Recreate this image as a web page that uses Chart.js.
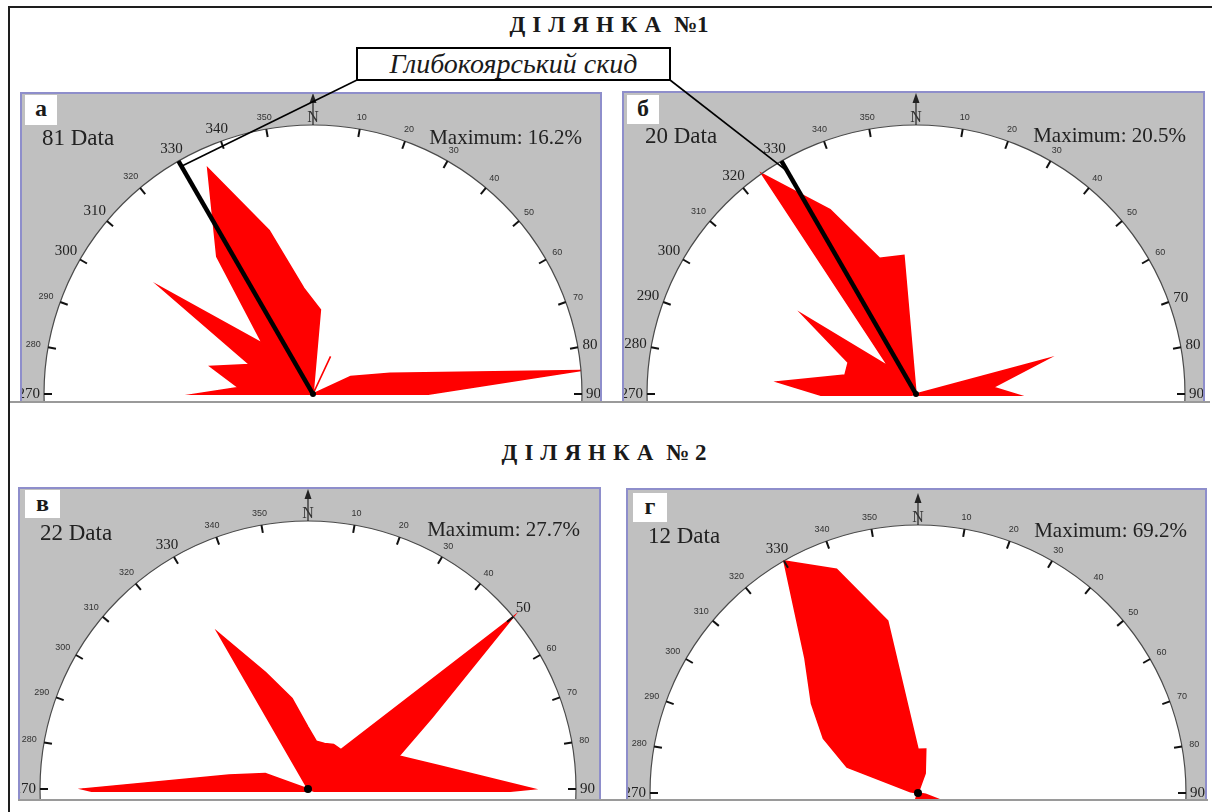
<!DOCTYPE html>
<html lang="uk"><head><meta charset="utf-8">
<title>Rose diagrams</title>
<script src="https://cdn.jsdelivr.net/npm/chart.js@4.4.1/dist/chart.umd.min.js"></script>
<style>
html,body{margin:0;padding:0;background:#fff;}
body{position:relative;width:1212px;height:812px;overflow:hidden;font-family:"Liberation Serif","Times New Roman",serif;color:#1a1a1a;}
.abs{position:absolute;}
.frameT{left:8px;top:6px;width:1204px;height:2px;background:#1e1e1e;}
.frameL{left:8px;top:6px;width:2px;height:806px;background:#1e1e1e;}
.title{font-weight:bold;font-size:23px;line-height:23px;white-space:nowrap;transform:translateX(-50%);}
.title .sp{letter-spacing:7px;}
.panel{background:#c0c0c0;overflow:hidden;box-sizing:border-box;border:2px solid #8e8ecb;border-bottom:0;z-index:1;}
.panel canvas{position:absolute;}
.hline{height:2px;background:#9a9a9a;z-index:2;}
.tag{background:#fff;font-weight:bold;font-size:24px;line-height:26px;text-align:center;z-index:3;}
.data{font-size:23px;line-height:23px;white-space:nowrap;z-index:3;color:#222;}
.maxi{font-size:21px;line-height:21px;white-space:nowrap;z-index:3;color:#222;}
#overlay{left:0;top:0;z-index:4;pointer-events:none;}
.callout{left:356px;top:47px;width:315px;height:34px;box-sizing:border-box;border:2px solid #000;background:#fff;font-style:italic;font-size:28px;display:flex;align-items:center;justify-content:center;z-index:5;white-space:nowrap;}
</style></head><body>
<div class="abs frameT"></div>
<div class="abs frameL"></div>
<div class="abs title" style="left:609px;top:13px;"><span class="sp">ДІЛЯНКА</span> №1</div>
<div class="abs title" style="left:604px;top:441px;"><span class="sp">ДІЛЯНКА</span> № 2</div>
<div id="root"></div>
<canvas id="overlay" class="abs" width="1212" height="812"></canvas>
<div class="abs callout" id="callout">Глибокоярський скид</div>
<script>
// ---------------- data ----------------
const panelTags = ['а', 'б', 'в', 'г'];
const dataCounts = [81, 20, 22, 12];
const maxima = [16.2, 20.5, 27.7, 69.2];          // Maximum, % (outer circle)

// bin-centre azimuths of the visible half-rose (axial data, 10° bins)
const binsA = [275, 285, 295, 305, 315, 325, 335, 345, 355, 5, 15, 25, 35, 45, 55, 65, 75, 85];
const binsB = [275, 285, 295, 305, 315, 325, 335, 345, 355, 5, 15, 25, 35, 45, 55, 65, 75, 85];
const binsV = [270, 280, 290, 300, 310, 320, 330, 340, 350, 0, 10, 20, 30, 40, 50, 60, 70, 80, 90];
const binsG = [270, 280, 290, 300, 310, 320, 330, 340, 350, 0, 10, 20, 30, 40, 50, 60, 70, 80, 90];

// percentages per bin
const pctA = [4.5, 6.4, 4.2, 11.3, 4.3, 10.1, 15.0, 10.2, 6.4, 5.1, 0, 2.5, 0, 0, 0, 2.5, 4.8, 16.2];
const pctB = [10.6, 5.6, 5.7, 10.6, 3.0, 20.5, 15.5, 10.7, 10.6, 0, 0, 0, 0, 0, 0, 0, 10.4, 5.9];
const pctV = [23.3, 8.3, 4.7, 0, 0, 0, 18.7, 12.8, 9.5, 6.4, 5.0, 5.0, 5.3, 5.3, 27.7, 14.8, 10.0, 13.8, 23.3];
const pctG = [0, 2.0, 19.5, 28.2, 35.9, 45.4, 69.2, 61.5, 45.1, 11.3, 11.5, 5.4, 0, 0, 0, 0, 0, 0, 0];

// tick marks / labels on the arc
const tickAngles = [270, 280, 290, 300, 310, 320, 330, 340, 350, 10, 20, 30, 40, 50, 60, 70, 80, 90];
const tickLabels = ['270', '280', '290', '300', '310', '320', '330', '340', '350', '10', '20', '30', '40', '50', '60', '70', '80', '90'];
const largeLabelsA = ['270', '300', '310', '330', '340', '80', '90'];
const largeLabelsB = ['270', '280', '290', '300', '320', '330', '70', '80', '90'];
const largeLabelsV = ['270', '330', '50', '90'];
const largeLabelsG = ['270', '330', '90'];

const faultAzimuth = 330;   // Глибокоярський скид (panels а, б)

// ---------------- layout (positions / styles only) ----------------
const layout = [
  {left: 20,  top: 92,  right: 602,  bottom: 402, cx: 313, cy: 394, R: 269, clip: 1, start: 5, tag: [25, 95, 32, 30],  data: [42, 126],  maxRight: 582,  maxTop: 127, fault: true,  inset: 6,  dot: 3},
  {left: 622, top: 91,  right: 1205, bottom: 402, cx: 916, cy: 394, R: 269, clip: 2, start: 5, tag: [627, 95, 32, 29], data: [645, 124], maxRight: 1186, maxTop: 125, fault: true,  inset: 12, dot: 3},
  {left: 18,  top: 487, right: 601,  bottom: 800, cx: 308, cy: 789, R: 268, clip: 3, start: 0, tag: [25, 490, 35, 28], data: [40, 521],  maxRight: 580,  maxTop: 519, fault: false, dot: 4},
  {left: 626, top: 488, right: 1207, bottom: 800, cx: 918, cy: 793, R: 268, clip: 8, start: 0, tag: [633, 493, 34, 29], data: [648, 524], maxRight: 1187, maxTop: 520, fault: false, dot: 4}
];
const PAD = 40;
const binsAll = [binsA, binsB, binsV, binsG];
const pctAll = [pctA, pctB, pctV, pctG];
const largeAll = [largeLabelsA, largeLabelsB, largeLabelsV, largeLabelsG];

// full 36-bin axial rose from the visible half
function fullRose(bins, pct, start) {
  const labels = [], values = [];
  for (let i = 0; i < 36; i++) {
    const az = (start + 10 * i) % 360;
    let k = bins.indexOf(az);
    if (k < 0) k = bins.indexOf((az + 180) % 360);
    labels.push(String(az));
    values.push(pct[k]);
  }
  return {labels, values};
}

function decorPlugin(i) {
  const L = layout[i];
  return {
    id: 'roseDecor' + i,
    beforeDraw(chart) {
      const s = chart.scales.r, ctx = chart.ctx;
      const R = s.getDistanceFromCenterForValue(maxima[i]);
      ctx.save();
      ctx.fillStyle = '#ffffff';
      ctx.beginPath();
      ctx.arc(s.xCenter, s.yCenter, R, 0, 2 * Math.PI);
      ctx.fill();
      ctx.restore();
    },
    beforeDatasetsDraw(chart) {
      const s = chart.scales.r, ctx = chart.ctx;
      ctx.save();
      ctx.beginPath();
      ctx.rect(0, 0, chart.width, s.yCenter + L.clip);
      ctx.clip();
    },
    afterDatasetsDraw(chart) {
      chart.ctx.restore();
    },
    afterDraw(chart) {
      const s = chart.scales.r, ctx = chart.ctx;
      const xc = s.xCenter, yc = s.yCenter;
      const R = s.getDistanceFromCenterForValue(maxima[i]);
      ctx.save();
      // outer circle
      ctx.strokeStyle = '#4a4a4a';
      ctx.lineWidth = 1.2;
      ctx.beginPath();
      ctx.arc(xc, yc, R, 0, 2 * Math.PI);
      ctx.stroke();
      // ticks + labels
      tickAngles.forEach((ang, j) => {
        const th = ang * Math.PI / 180;
        const sx = Math.sin(th), cy = Math.cos(th);
        ctx.strokeStyle = '#111';
        ctx.lineWidth = 2;
        ctx.beginPath();
        ctx.moveTo(xc + R * sx, yc - R * cy);
        ctx.lineTo(xc + (R - 8) * sx, yc - (R - 8) * cy);
        ctx.stroke();
        const lab = tickLabels[j];
        const large = largeAll[i].includes(lab);
        ctx.font = large ? '15px "Liberation Serif"' : '9px "Liberation Sans"';
        ctx.fillStyle = large ? '#222' : '#333';
        const w = ctx.measureText(lab).width;
        const h = large ? 10 : 7;
        const rr = R + 4 + Math.abs(sx) * w / 2 + Math.abs(cy) * h / 2 + (large ? 0 : 3);
        ctx.textAlign = 'center';
        ctx.textBaseline = 'middle';
        ctx.fillText(lab, xc + rr * sx, yc - rr * cy);
      });
      // north arrow
      const yTop = yc - R;
      ctx.strokeStyle = '#222';
      ctx.lineWidth = 1.2;
      ctx.beginPath();
      ctx.moveTo(xc, yTop);
      ctx.lineTo(xc, yTop - 29);
      ctx.stroke();
      ctx.fillStyle = '#222';
      ctx.beginPath();
      ctx.moveTo(xc, yTop - 32);
      ctx.lineTo(xc - 3.5, yTop - 22);
      ctx.lineTo(xc + 3.5, yTop - 22);
      ctx.closePath();
      ctx.fill();
      ctx.font = '16px "Liberation Serif"';
      ctx.textAlign = 'center';
      ctx.textBaseline = 'alphabetic';
      ctx.fillStyle = '#333';
      ctx.fillText('N', xc, yTop - 3);
      // fault line
      if (L.fault) {
        const th = faultAzimuth * Math.PI / 180;
        ctx.strokeStyle = '#000';
        ctx.lineWidth = 4.5;
        ctx.lineCap = 'butt';
        ctx.beginPath();
        ctx.moveTo(xc, yc);
        ctx.lineTo(xc + R * Math.sin(th), yc - R * Math.cos(th));
        ctx.stroke();
      }
      // centre dot
      ctx.fillStyle = '#000';
      ctx.beginPath();
      ctx.arc(xc, yc, L.dot, 0, 2 * Math.PI);
      ctx.fill();
      ctx.restore();
    }
  };
}

const root = document.getElementById('root');
const charts = [];
layout.forEach((L, i) => {
  const panel = document.createElement('div');
  panel.className = 'abs panel';
  panel.style.left = L.left + 'px';
  panel.style.top = L.top + 'px';
  panel.style.width = (L.right - L.left) + 'px';
  panel.style.height = (L.bottom - L.top) + 'px';
  root.appendChild(panel);

  const S = 2 * (L.R + PAD);
  const cv = document.createElement('canvas');
  cv.width = S; cv.height = S;
  cv.style.width = S + 'px'; cv.style.height = S + 'px';
  cv.style.left = (L.cx - S / 2 - L.left - 2) + 'px';
  cv.style.top = (L.cy - S / 2 - L.top - 2) + 'px';
  panel.appendChild(cv);

  const hl = document.createElement('div');
  hl.className = 'abs hline';
  hl.style.left = (i < 2 ? 10 : L.left) + 'px';
  hl.style.width = (i < 2 ? 1200 : (i === 2 ? 1208 - L.left : L.right + 1 - L.left)) + 'px';
  hl.style.top = (L.bottom - 1) + 'px';
  root.appendChild(hl);

  const tag = document.createElement('div');
  tag.className = 'abs tag';
  tag.style.left = L.tag[0] + 'px'; tag.style.top = L.tag[1] + 'px';
  tag.style.width = L.tag[2] + 'px'; tag.style.height = L.tag[3] + 'px';
  tag.textContent = panelTags[i];
  root.appendChild(tag);

  const d = document.createElement('div');
  d.className = 'abs data';
  d.style.left = L.data[0] + 'px'; d.style.top = L.data[1] + 'px';
  d.textContent = dataCounts[i] + ' Data';
  root.appendChild(d);

  const m = document.createElement('div');
  m.className = 'abs maxi';
  m.style.right = (1212 - L.maxRight) + 'px'; m.style.top = L.maxTop + 'px';
  m.textContent = 'Maximum: ' + maxima[i].toFixed(1) + '%';
  root.appendChild(m);

  const rose = fullRose(binsAll[i], pctAll[i], L.start);
  const scaleMax = maxima[i] * (L.R + PAD) / L.R;
  charts.push(new Chart(cv, {
    type: 'radar',
    data: {
      labels: rose.labels,
      datasets: [{
        data: rose.values,
        backgroundColor: '#ff0000',
        borderColor: '#ff0000',
        borderWidth: 1.6,
        pointRadius: 0,
        pointHoverRadius: 0,
        fill: true,
        tension: 0,
        clip: false
      }]
    },
    options: {
      responsive: false,
      animation: false,
      devicePixelRatio: 1,
      layout: {padding: 0},
      events: [],
      plugins: {legend: {display: false}, tooltip: {enabled: false}},
      scales: {
        r: {
          min: 0,
          max: scaleMax,
          startAngle: L.start,
          ticks: {display: false},
          grid: {display: false},
          angleLines: {display: false},
          pointLabels: {display: false}
        }
      }
    },
    plugins: [decorPlugin(i)]
  }));
});

// callout lines from the label box to the fault line in panels а and б
(function drawCallout() {
  const ov = document.getElementById('overlay');
  const ctx = ov.getContext('2d');
  const box = document.getElementById('callout').getBoundingClientRect();
  const starts = [[box.left + 1, box.bottom - 1], [box.right - 1, box.bottom - 1]];
  ctx.strokeStyle = '#000';
  ctx.lineWidth = 1.6;
  [0, 1].forEach(i => {
    const ch = charts[i], s = ch.scales.r;
    const rc = ch.canvas.getBoundingClientRect();
    const R = s.getDistanceFromCenterForValue(maxima[i]);
    const r = R - layout[i].inset;
    const th = faultAzimuth * Math.PI / 180;
    const x = rc.left + s.xCenter + r * Math.sin(th);
    const y = rc.top + s.yCenter - r * Math.cos(th);
    ctx.beginPath();
    ctx.moveTo(starts[i][0], starts[i][1]);
    ctx.lineTo(x, y);
    ctx.stroke();
  });
})();
</script>
</body></html>
